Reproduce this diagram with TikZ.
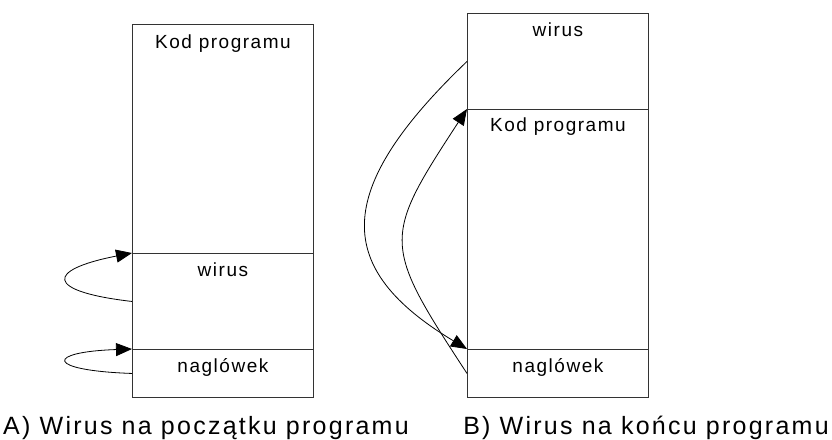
\documentclass[tikz,border=0pt]{standalone}
\usepackage{fontspec}
\setmainfont{Liberation Sans}
\newfontfamily\boxfont[LetterSpace=8]{Liberation Sans}
\newfontfamily\capfont[LetterSpace=9]{Liberation Sans}
\usetikzlibrary{arrows.meta}

\begin{document}
\begin{tikzpicture}[x=1pt,y=-1pt,
  seg/.style={draw=black!80, line width=0.9pt, minimum width=181pt, inner sep=0pt, anchor=north west},
  segtext/.style={anchor=base, font=\boxfont\fontsize{19}{21}\selectfont, inner sep=0pt},
  captext/.style={anchor=base, font=\capfont\fontsize{25}{29}\selectfont, inner sep=0pt},
  flow/.style={draw, line width=0.8pt, -{Triangle[length=16pt,width=13pt]}}
]
\useasboundingbox (0,0) rectangle (832,439);

% Program A: virus placed at the start
\node[seg, minimum height=229pt] (kodA)   at (132,24)  {};
\node[seg, minimum height=96pt]  (wirusA) at (132,253) {};
\node[seg, minimum height=48pt]  (naglA)  at (132,349) {};
\node[segtext] (tKodA)   at ([yshift=-24pt]kodA.north)   {Kod programu};
\node[segtext] (tWirusA) at ([yshift=-23pt]wirusA.north) {wirus};
\node[segtext] (tNaglA)  at ([yshift=-23pt]naglA.north)  {naglówek};

% Program B: virus placed at the end
\node[seg, minimum height=96pt]  (wirusB) at (467,13)  {};
\node[seg, minimum height=240pt] (kodB)   at (467,109) {};
\node[seg, minimum height=48pt]  (naglB)  at (467,349) {};
\node[segtext] (tWirusB) at ([yshift=-23pt]wirusB.north) {wirus};
\node[segtext] (tKodB)   at ([yshift=-22pt]kodB.north)   {Kod programu};
\node[segtext] (tNaglB)  at ([yshift=-23pt]naglB.north)  {naglówek};

% control transfers
\draw[flow] (wirusA.west) .. controls +(-87,-10) and +(-87,17) .. (wirusA.north west);
\draw[flow] (naglA.west)  .. controls +(-87,-3)  and +(-87,3)  .. (naglA.north west);
\draw[flow] (wirusB.west) .. controls +(-136,130) and +(-133,-80) .. (naglB.north west);
\draw[flow] (naglB.west)  .. controls +(-85,-130) and +(-85,130) .. (kodB.north west);

% captions
\node[captext] (capA) at (206,434) {A) Wirus na początku programu};
\node[captext] (capB) at (646,434) {B) Wirus na końcu programu};
\end{tikzpicture}
\end{document}
